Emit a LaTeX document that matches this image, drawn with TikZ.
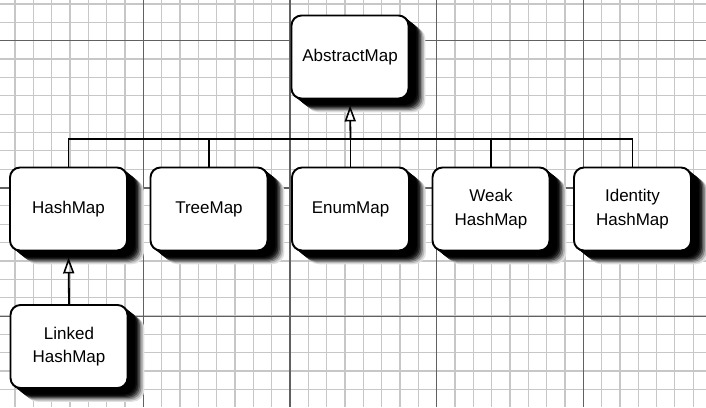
\documentclass[tikz,border=0pt]{standalone}
\usepackage{fontspec}
\setmainfont{Liberation Sans}
\usetikzlibrary{arrows.meta}
\pgfdeclarelayer{gridlayer}
\pgfdeclarelayer{shadowlayer}
\pgfsetlayers{gridlayer,shadowlayer,main}
\tikzset{
  minorgrid/.style={draw=black!22, line width=1.2pt},
  majorgrid/.style={draw=black!62, line width=1.3pt},
  classbox/.style={draw=black, line width=1.9pt, fill=white, rounded corners=10pt,
    minimum width=117pt, minimum height=83pt, align=center,
    font=\fontsize{17}{23.3}\selectfont},
  conn/.style={draw=black, line width=1.8pt},
  inherit/.style={conn, -{Triangle[open, length=16pt, width=11pt, line width=1.6pt]}, shorten >=6pt}
}
\begin{document}
\begin{tikzpicture}[x=1pt, y=-1pt]
\useasboundingbox (0,0) rectangle (706,407);
% classes
\node[classbox] (am) at (350,57) {AbstractMap};
\node[classbox] (hm) at (68.5,209) {HashMap};
\node[classbox] (tm) at (209,209) {TreeMap};
\node[classbox] (em) at (350.5,209) {EnumMap};
\node[classbox] (wm) at (491,209) {Weak\\HashMap};
\node[classbox] (im) at (632.5,209) {Identity\\HashMap};
\node[classbox] (lm) at (69,346.5) {Linked\\HashMap};
% grid
\begin{pgfonlayer}{gridlayer}
\fill[white] (0,0) rectangle (706,407);
\foreach \k in {0,...,37} {\draw[minorgrid] ({15+18.33*\k},0) -- ({15+18.33*\k},407);}
\foreach \k in {0,...,21} {\draw[minorgrid] (0,{4+18.35*\k}) -- (706,{4+18.35*\k});}
\foreach \x in {143.3,290,436.7,583.3} {\draw[majorgrid] (\x,0) -- (\x,407);}
\foreach \y in {40.7,188,316.5} {\draw[majorgrid] (0,\y) -- (706,\y);}
\end{pgfonlayer}
% shadows (solid shades, farthest and lightest first)
\begin{pgfonlayer}{shadowlayer}
\foreach \n in {am,hm,tm,em,wm,im,lm} {
  \foreach \d/\s in {16/12,14.5/28,13/48,11.5/68,10/85,8.5/95,7/100,5/100,3/100,1.5/100} {
    \fill[black!\s, rounded corners=12pt] ([xshift=\d pt, yshift=-0.8*\d pt]\n.north west) rectangle ([xshift=\d pt, yshift=-0.8*\d pt]\n.south east);
  }
}
\end{pgfonlayer}
% connectors
\coordinate (bus) at (350.5,139);
\draw[conn] (hm.north) |- (bus) -| (im.north);
\draw[conn] (tm.north) -- (tm.north |- bus);
\draw[conn] (em.north) -- (bus);
\draw[conn] (wm.north) -- (wm.north |- bus);
\draw[inherit] (bus) -- (am.south);
\draw[inherit] (lm.north) -- (hm.south);
\end{tikzpicture}
\end{document}
